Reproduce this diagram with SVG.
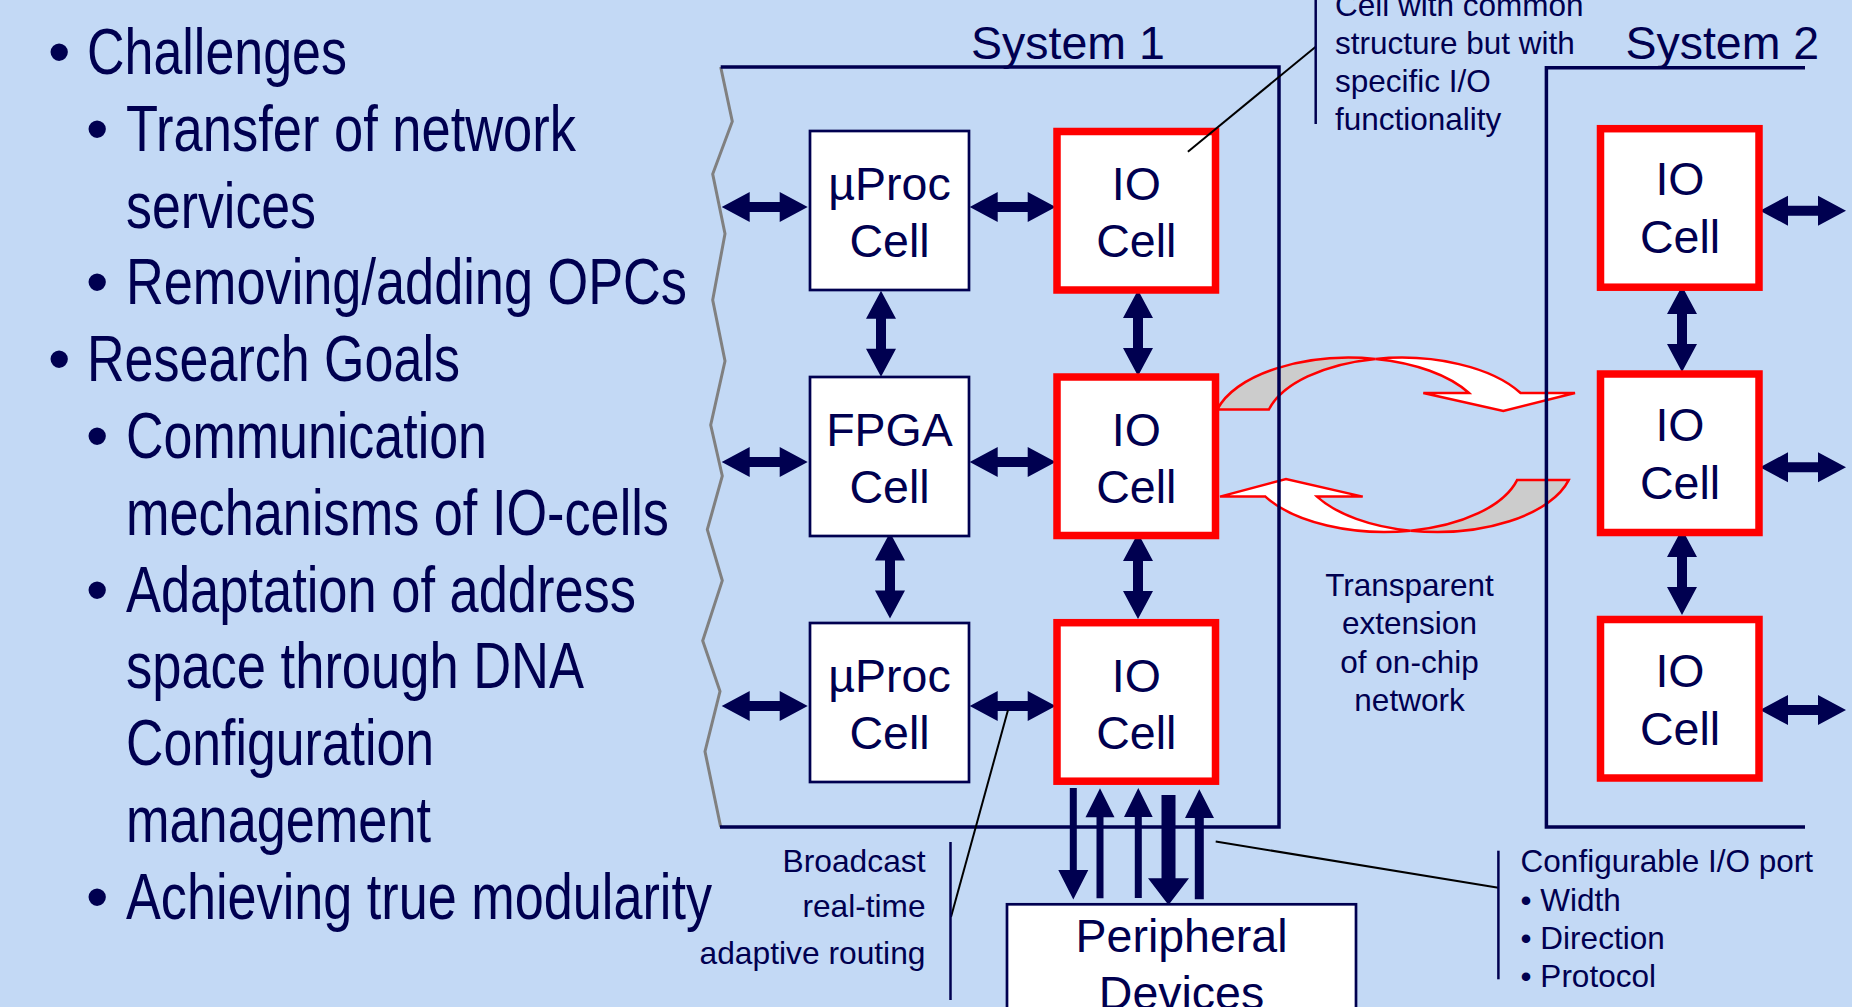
<svg xmlns="http://www.w3.org/2000/svg" xmlns:xlink="http://www.w3.org/1999/xlink" width="1852" height="1007" viewBox="0 0 1852 1007">
  <defs>
    <style>
      .bg { fill: #C3D9F5; }
      .txt { font-family: "Liberation Sans", Arial, sans-serif; fill: #000050; }
      .big { font-size: 64px; }
      .cell { font-size: 46.5px; text-anchor: middle; }
      .note { font-size: 31.5px; }
      .frame { fill: none; stroke: #000050; stroke-width: 3.5; }
      .edge { fill: none; stroke: #808080; stroke-width: 3; stroke-linejoin: miter; }
      .box { fill: #FFFFFF; stroke: #000050; stroke-width: 2.7; }
      .io { fill: #FFFFFF; stroke: #FF0000; stroke-width: 7.5; }
      .arrow { fill: #000050; }
      .bar { fill: none; stroke: #000050; stroke-width: 2.5; }
      .leader { fill: none; stroke: #000000; stroke-width: 2; }
      .flow-front { fill: #FFFFFF; stroke: #FF0000; stroke-width: 2.5; stroke-linejoin: miter; }
      .flow-back { fill: #CCCCCC; stroke: #FF0000; stroke-width: 2.5; stroke-linejoin: miter; }
    </style>
    <!-- double-headed link, 86 px long, centred on the origin -->
    <path id="dbl" d="M-43,0 L-15,-15 L-15,-5 L15,-5 L15,-15 L43,0 L15,15 L15,5 L-15,5 L-15,15 Z"/>
  </defs>

  <rect class="bg" x="0" y="0" width="1852" height="1007"/>

  <!-- bullet list -->
  <g id="bullets" class="txt big">
    <text x="48" y="74">•</text>
    <text x="87" y="74" textLength="260" lengthAdjust="spacingAndGlyphs">Challenges</text>
    <text x="86" y="150.8">•</text>
    <text x="126" y="150.8" textLength="450" lengthAdjust="spacingAndGlyphs">Transfer of network</text>
    <text x="126" y="227.6" textLength="190" lengthAdjust="spacingAndGlyphs">services</text>
    <text x="86" y="304.4">•</text>
    <text x="126" y="304.4" textLength="561" lengthAdjust="spacingAndGlyphs">Removing/adding OPCs</text>
    <text x="48" y="381.2">•</text>
    <text x="87" y="381.2" textLength="373" lengthAdjust="spacingAndGlyphs">Research Goals</text>
    <text x="86" y="458">•</text>
    <text x="126" y="458" textLength="361" lengthAdjust="spacingAndGlyphs">Communication</text>
    <text x="126" y="534.8" textLength="543" lengthAdjust="spacingAndGlyphs">mechanisms of IO-cells</text>
    <text x="86" y="611.6">•</text>
    <text x="126" y="611.6" textLength="510" lengthAdjust="spacingAndGlyphs">Adaptation of address</text>
    <text x="126" y="688.4" textLength="458" lengthAdjust="spacingAndGlyphs">space through DNA</text>
    <text x="126" y="765.2" textLength="308" lengthAdjust="spacingAndGlyphs">Configuration</text>
    <text x="126" y="842" textLength="305" lengthAdjust="spacingAndGlyphs">management</text>
    <text x="86" y="918.8">•</text>
    <text x="126" y="918.8" textLength="586" lengthAdjust="spacingAndGlyphs">Achieving true modularity</text>
  </g>

  <!-- connectors -->
  <g id="connectors">
    <!-- network extension between the two systems -->
    <g id="link-s1-s2">
      <path class="flow-back" d="M1217.3,409.5 A136.67,69 0 0 1 1375.5,358.9 A136.67,69 0 0 0 1268.9,409.5 Z"/>
      <path class="flow-front" d="M1375.5,358.9 A136.67,69 0 0 1 1520.6,393 L1575,393 L1503.3,411 L1423.3,393 L1469,393 A136.67,69 0 0 0 1375.5,358.9 Z"/>
    </g>
    <g id="link-s2-s1">
      <path class="flow-back" d="M1568.7,480.1 A136.67,69 0 0 1 1410.5,530.7 A136.67,69 0 0 0 1517.1,480.1 Z"/>
      <path class="flow-front" d="M1410.5,530.7 A136.67,69 0 0 1 1265.4,496.6 L1220,496.6 L1286,479 L1362.7,496.6 L1317,496.6 A136.67,69 0 0 0 1410.5,530.7 Z"/>
    </g>

    <!-- system 1 horizontal links -->
    <g class="arrow">
      <use xlink:href="#dbl" transform="translate(764.7,207)"/>
      <use xlink:href="#dbl" transform="translate(764.7,462)"/>
      <use xlink:href="#dbl" transform="translate(764.7,706)"/>
      <use xlink:href="#dbl" transform="translate(1012.7,207)"/>
      <use xlink:href="#dbl" transform="translate(1012.7,462)"/>
      <use xlink:href="#dbl" transform="translate(1012.7,706)"/>
      <!-- system 1 vertical links -->
      <use xlink:href="#dbl" transform="translate(881,333.7) rotate(90)"/>
      <use xlink:href="#dbl" transform="translate(890,575.5) rotate(90)"/>
      <use xlink:href="#dbl" transform="translate(1138,333) rotate(90)"/>
      <use xlink:href="#dbl" transform="translate(1138,576) rotate(90)"/>
      <!-- system 2 links -->
      <use xlink:href="#dbl" transform="translate(1803,210.7)"/>
      <use xlink:href="#dbl" transform="translate(1803,467.3)"/>
      <use xlink:href="#dbl" transform="translate(1803,710)"/>
      <use xlink:href="#dbl" transform="translate(1682,329) rotate(90)"/>
      <use xlink:href="#dbl" transform="translate(1682,572) rotate(90)"/>
      <!-- I/O port lines to the peripherals -->
      <polygon points="1069.8,788 1076.8,788 1076.8,870 1088.3,870 1073.3,899.5 1058.3,870 1069.8,870"/>
      <polygon points="1100,788.3 1114.5,817.3 1103.5,817.3 1103.5,898.3 1096.5,898.3 1096.5,817.3 1085.5,817.3"/>
      <polygon points="1138.3,788 1152.7,817 1141.8,817 1141.8,898 1134.8,898 1134.8,817 1124,817"/>
      <polygon points="1161.5,795 1175.5,795 1175.5,878.3 1189,878.3 1168.5,905 1148,878.3 1161.5,878.3"/>
      <polygon points="1199.3,789.3 1214,818 1203.8,818 1203.8,899.3 1194.8,899.3 1194.8,818 1185,818"/>
    </g>
  </g>

  <!-- system 1 enclosure -->
  <g id="system1">
    <polyline class="edge" points="720.7,67 732.3,121.4 712.7,174 725,233.7 712.7,300 725,361 710.7,425 722.3,476 707.3,529.6 722.3,580.6 702.7,640.8 720,691.3 705,751.5 720.7,827"/>
    <polyline class="frame" points="720.7,67 1279,67 1279,827 720,827"/>
    <text class="txt" x="971" y="59.3" font-size="46.5">System 1</text>
  </g>

  <!-- system 2 enclosure -->
  <g id="system2">
    <polyline class="frame" points="1805,67.7 1546.4,67.7 1546.4,827 1805,827"/>
    <text class="txt" x="1625.4" y="59.3" font-size="46.5">System 2</text>
  </g>

  <!-- system 1 cells -->
  <g id="uproc1">
    <rect class="box" x="810" y="131" width="159" height="159"/>
    <text class="txt cell" x="889.5" y="200">µProc</text>
    <text class="txt cell" x="889.5" y="257">Cell</text>
  </g>
  <g id="fpga">
    <rect class="box" x="810" y="377" width="159" height="159"/>
    <text class="txt cell" x="889.5" y="446">FPGA</text>
    <text class="txt cell" x="889.5" y="503">Cell</text>
  </g>
  <g id="uproc2">
    <rect class="box" x="810" y="623" width="159" height="159"/>
    <text class="txt cell" x="889.5" y="692">µProc</text>
    <text class="txt cell" x="889.5" y="749">Cell</text>
  </g>
  <g id="io1-1">
    <rect class="io" x="1057" y="131.5" width="158.5" height="158.5"/>
    <text class="txt cell" x="1136.3" y="200">IO</text>
    <text class="txt cell" x="1136.3" y="257">Cell</text>
  </g>
  <g id="io1-2">
    <rect class="io" x="1057" y="377" width="158.5" height="158.5"/>
    <text class="txt cell" x="1136.3" y="446">IO</text>
    <text class="txt cell" x="1136.3" y="503">Cell</text>
  </g>
  <g id="io1-3">
    <rect class="io" x="1057" y="622.7" width="158.5" height="158.5"/>
    <text class="txt cell" x="1136.3" y="692">IO</text>
    <text class="txt cell" x="1136.3" y="749">Cell</text>
  </g>

  <!-- system 2 cells -->
  <g id="io2-1">
    <rect class="io" x="1600.5" y="128.7" width="158.5" height="158.5"/>
    <text class="txt cell" x="1680" y="195">IO</text>
    <text class="txt cell" x="1680" y="253">Cell</text>
  </g>
  <g id="io2-2">
    <rect class="io" x="1600.5" y="374" width="158.5" height="158.5"/>
    <text class="txt cell" x="1680" y="440.5">IO</text>
    <text class="txt cell" x="1680" y="498.5">Cell</text>
  </g>
  <g id="io2-3">
    <rect class="io" x="1600.5" y="619.5" width="158.5" height="158.5"/>
    <text class="txt cell" x="1680" y="686.5">IO</text>
    <text class="txt cell" x="1680" y="744.5">Cell</text>
  </g>

  <!-- peripherals -->
  <g id="peripherals">
    <rect class="box" x="1007" y="904.3" width="349" height="130"/>
    <text class="txt cell" x="1181.5" y="951.7">Peripheral</text>
    <text class="txt cell" x="1181.5" y="1008.5">Devices</text>
  </g>

  <!-- annotations with their leader lines, drawn over the cells -->
  <g id="note-cell" class="txt note">
    <line class="leader" x1="1187.9" y1="151.7" x2="1315.7" y2="46.7"/>
    <line class="bar" x1="1315.7" y1="0" x2="1315.7" y2="124"/>
    <text x="1335" y="15.5">Cell with common</text>
    <text x="1335" y="53.8">structure but with</text>
    <text x="1335" y="92">specific I/O</text>
    <text x="1335" y="130.3">functionality</text>
  </g>
  <g id="note-transparent" class="txt note" text-anchor="middle">
    <text x="1409.5" y="595.5">Transparent</text>
    <text x="1409.5" y="634">extension</text>
    <text x="1409.5" y="672.5">of on-chip</text>
    <text x="1409.5" y="711">network</text>
  </g>
  <g id="note-routing" class="txt note" text-anchor="end">
    <line class="leader" x1="1008" y1="710" x2="951" y2="917"/>
    <line class="bar" x1="950.5" y1="842" x2="950.5" y2="1000"/>
    <text x="925.5" y="872" textLength="143" lengthAdjust="spacingAndGlyphs">Broadcast</text>
    <text x="925.5" y="917" textLength="123" lengthAdjust="spacingAndGlyphs">real-time</text>
    <text x="925.5" y="963.5" textLength="226" lengthAdjust="spacingAndGlyphs">adaptive routing</text>
  </g>
  <g id="note-port" class="txt note">
    <line class="leader" x1="1215.7" y1="841.5" x2="1498.4" y2="887.7"/>
    <line class="bar" x1="1498.4" y1="850.7" x2="1498.4" y2="979.3"/>
    <text x="1520.6" y="872">Configurable I/O port</text>
    <text x="1520.6" y="910.5">• Width</text>
    <text x="1520.6" y="948.5">• Direction</text>
    <text x="1520.6" y="986.5">• Protocol</text>
  </g>
</svg>
